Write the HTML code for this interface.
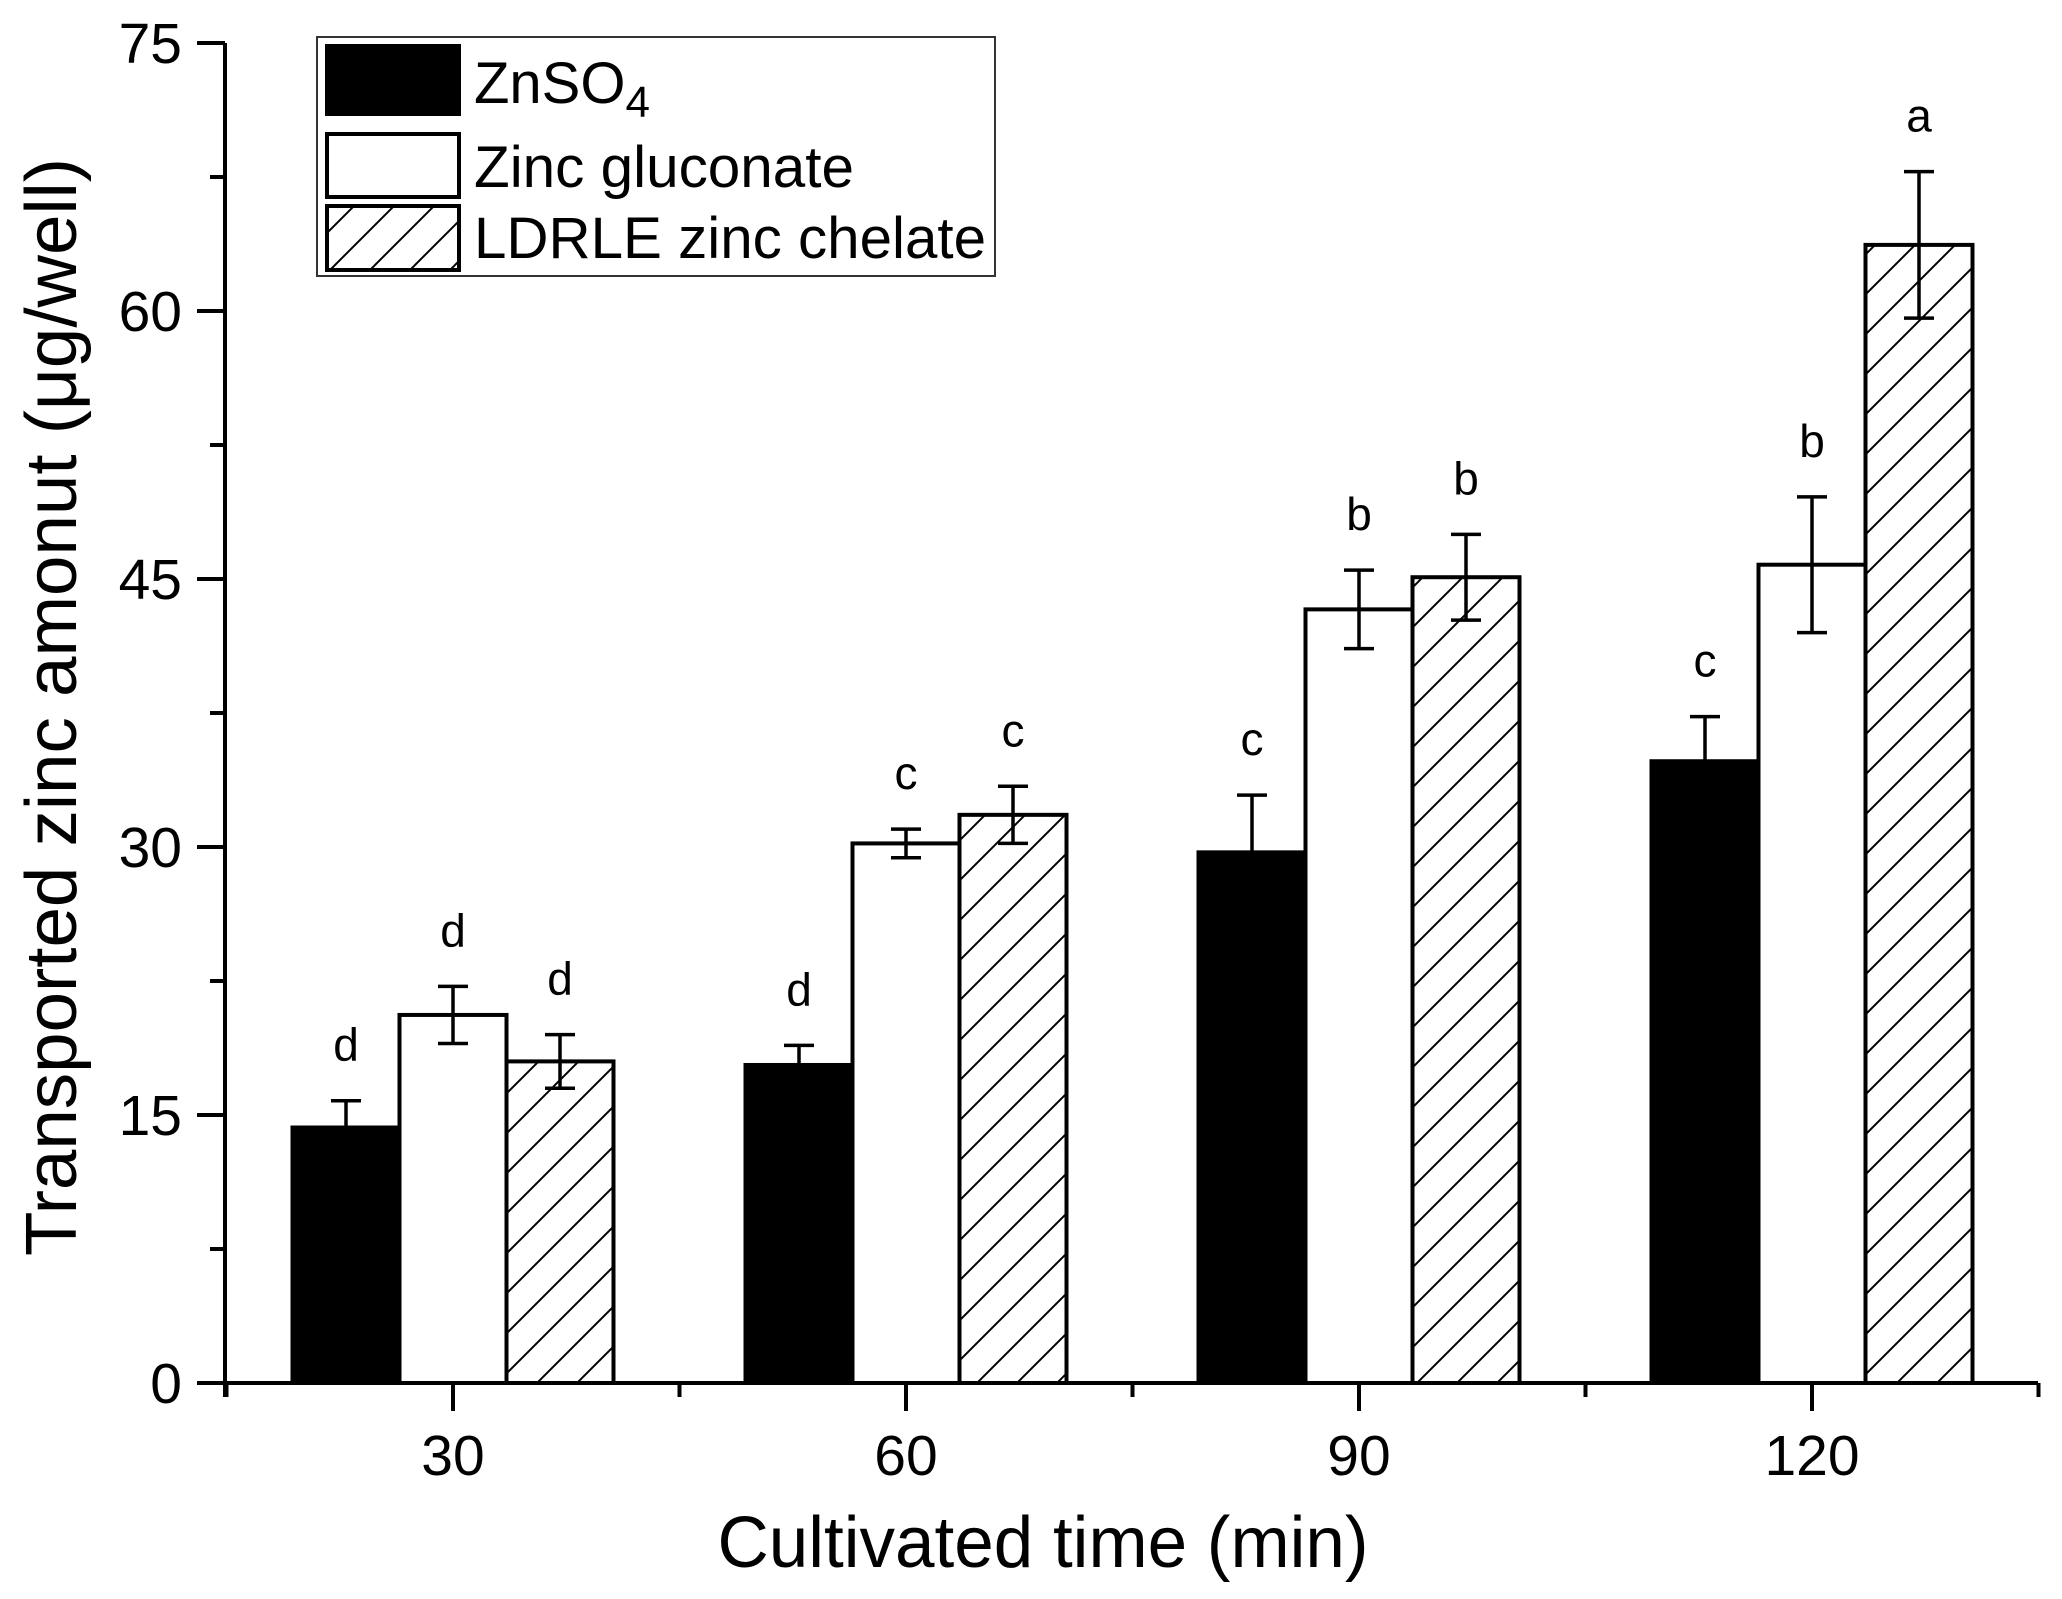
<!DOCTYPE html>
<html><head><meta charset="utf-8"><style>
html,body{margin:0;padding:0;background:#fff;}
svg{display:block;font-family:"Liberation Sans",Arial,sans-serif;}
</style></head><body>
<svg id="chart" width="2062" height="1599" viewBox="0 0 2062 1599" xmlns="http://www.w3.org/2000/svg">
<defs>
<pattern id="hatch" patternUnits="userSpaceOnUse" width="40" height="40">
<path d="M-10,10 L10,-10 M0,40 L40,0 M30,50 L50,30" stroke="#000" stroke-width="2"/>
</pattern>
</defs>
<g id="axes"></g>
<g id="bars"></g>
<g id="legend">
<rect x="317" y="37" width="678" height="239" fill="#fff" stroke="#333" stroke-width="2"/>
<rect x="327" y="46" width="132" height="68" fill="#000" stroke="#000" stroke-width="4"/>
<text x="474" y="103" font-size="58">ZnSO<tspan font-size="44" dy="14">4</tspan></text>
<rect x="327" y="134" width="132" height="63" fill="#fff" stroke="#000" stroke-width="4"/>
<text x="474" y="187" font-size="58" textLength="380" lengthAdjust="spacingAndGlyphs">Zinc gluconate</text>
<rect x="327" y="206" width="132" height="64" fill="url(#hatch)" stroke="#000" stroke-width="4"/>
<text x="474" y="258" font-size="58" textLength="512" lengthAdjust="spacingAndGlyphs">LDRLE zinc chelate</text>
</g>
<text x="1043" y="1567" font-size="72" text-anchor="middle" textLength="651" lengthAdjust="spacingAndGlyphs">Cultivated time (min)</text>
<text transform="translate(76,707) rotate(-90)" font-size="72" text-anchor="middle" textLength="1098" lengthAdjust="spacingAndGlyphs">Transported zinc amonut (μg/well)</text>
</svg>
<script>
const categories = ["30","60","90","120"];
const seriesNames = ["ZnSO4","Zinc gluconate","LDRLE zinc chelate"];
const znso4 = [14.3, 17.8, 29.7, 34.8];
const znso4Err = [1.5, 1.1, 3.2, 2.5];
const gluconate = [20.6, 30.2, 43.3, 45.8];
const gluconateErr = [1.6, 0.8, 2.2, 3.8];
const ldrle = [18.0, 31.8, 45.1, 63.7];
const ldrleErr = [1.5, 1.6, 2.4, 4.1];
const znso4Letters = ["d","d","c","c"];
const gluconateLetters = ["d","c","b","b"];
const ldrleLetters = ["d","c","b","a"];
const yTicks = [0, 15, 30, 45, 60, 75];

const NS = "http://www.w3.org/2000/svg";
const X0 = 225, X1 = 2038, Y0 = 1383, Y75 = 43;
function yScale(v){ return Y0 - (v/75)*(Y0-Y75); }
function xCenter(i){ return 453 + i*453; }
const barW = 107;
function mk(tag, attrs, parent){ const e=document.createElementNS(NS,tag); for(const k in attrs) e.setAttribute(k,attrs[k]); parent.appendChild(e); return e; }

const axes = document.getElementById('axes');
const bars = document.getElementById('bars');

let yl = mk('line',{x1:X0,y1:Y0+14,x2:X0,y2:Y75,stroke:'#000','stroke-width':4},axes);


yTicks.forEach((t,i)=>{
  const y=yScale(t);
  let tk=mk('line',{x1:X0-28,y1:y,x2:X0,y2:y,stroke:'#000','stroke-width':4},axes);
  
  
  let lb=mk('text',{x:X0-43,y:y+20,'font-size':57,'text-anchor':'end'},axes);
  lb.textContent=t;
  
  
  if(i<yTicks.length-1){
    const ym=yScale(t+7.5);
    let mt=mk('line',{x1:X0-15,y1:ym,x2:X0,y2:ym,stroke:'#000','stroke-width':4},axes);
    
    
  }
});
let xl = mk('line',{x1:X0-28,y1:Y0,x2:X1,y2:Y0,stroke:'#000','stroke-width':4},axes);


categories.forEach((c,i)=>{
  const x=xCenter(i);
  let tk=mk('line',{x1:x,y1:Y0,x2:x,y2:Y0+28,stroke:'#000','stroke-width':4},axes);
  
  
  let lb=mk('text',{x:x,y:Y0+92,'font-size':57,'text-anchor':'middle'},axes);
  lb.textContent=c;
  
  
  const xm = x - 453/2;
  let mt=mk('line',{x1:xm,y1:Y0,x2:xm,y2:Y0+14,stroke:'#000','stroke-width':4},axes);
  
  
});
let lastMinor=mk('line',{x1:xCenter(3)+453/2,y1:Y0,x2:xCenter(3)+453/2,y2:Y0+14,stroke:'#000','stroke-width':4},axes);



const series = [
  {vals:znso4, err:znso4Err, letters:znso4Letters, fill:'#000', name:'znso4'},
  {vals:gluconate, err:gluconateErr, letters:gluconateLetters, fill:'#fff', name:'gluconate'},
  {vals:ldrle, err:ldrleErr, letters:ldrleLetters, fill:'url(#hatch)', name:'ldrle'}
];
series.forEach((s,si)=>{
  s.vals.forEach((v,i)=>{
    const xc = xCenter(i) + (si-1)*barW;
    const x = xc - barW/2;
    const y = yScale(v);
    let r=mk('rect',{x:x,y:y,width:barW,height:Y0-y,fill:s.fill,stroke:'#000','stroke-width':4},bars);
    
    
    const yt=yScale(v+s.err[i]), yb=yScale(v-s.err[i]);
    let eb=mk('path',{d:`M${xc},${yt}V${yb}M${xc-15},${yt}H${xc+15}M${xc-15},${yb}H${xc+15}`,stroke:'#000','stroke-width':3.5,fill:'none'},bars);
    
    
    let lt=mk('text',{x:xc,y:yt-40,'font-size':46,'text-anchor':'middle'},bars);
    lt.textContent=s.letters[i];
    
    
  });
});
</script>
</body></html>
